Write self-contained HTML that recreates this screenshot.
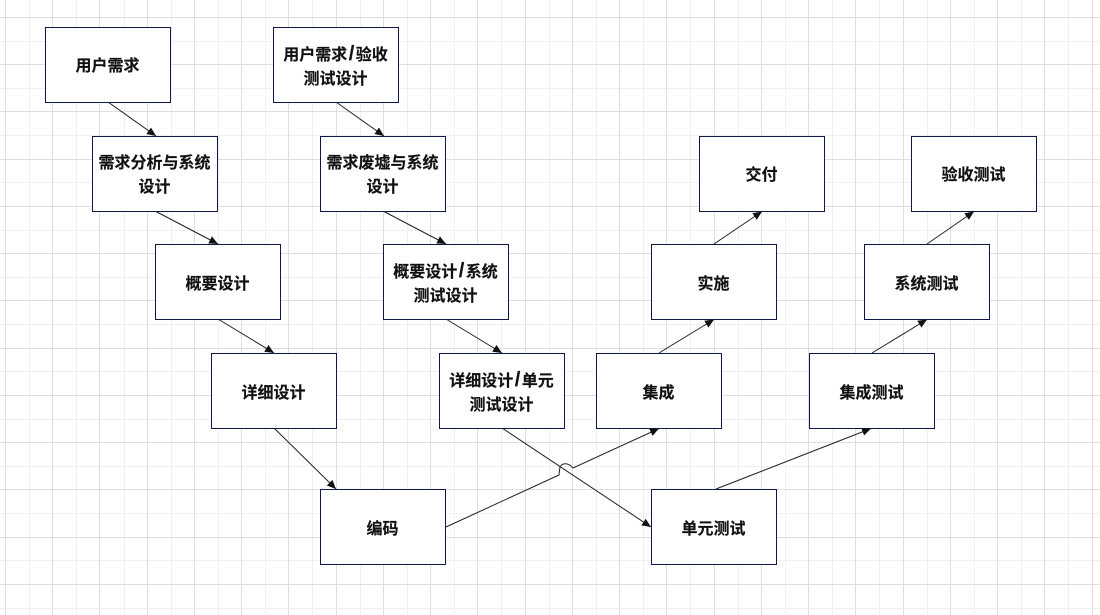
<!DOCTYPE html>
<html lang="zh"><head><meta charset="utf-8"><style>
html,body{margin:0;padding:0;background:#fff}
svg{display:block}
text{font-family:"Liberation Sans","Noto Sans CJK SC",sans-serif;font-size:16px;font-weight:700;fill:#111;stroke:#111;stroke-width:.15;text-anchor:middle}
.s{font-size:20px}
.b{fill:#fff;stroke:#10174a;stroke-width:1}
.c{fill:none;stroke:#222;stroke-width:1}
.g1{fill:#dfdfdf}
.g2{fill:#f0f0f0}
</style></head><body>
<svg width="1100" height="615" viewBox="0 0 1100 615" xmlns="http://www.w3.org/2000/svg">
<defs>
<marker id="a" markerUnits="userSpaceOnUse" markerWidth="10" markerHeight="10" refX="9" refY="4" orient="auto"><path d="M0 0L9 4L0 8Z" fill="#111"/></marker>
</defs>
<path class="g2" d="M29 0h1v615h-1zM76 0h1v615h-1zM124 0h1v615h-1zM171 0h1v615h-1zM218 0h1v615h-1zM265 0h1v615h-1zM312 0h1v615h-1zM360 0h1v615h-1zM407 0h1v615h-1zM454 0h1v615h-1zM501 0h1v615h-1zM549 0h1v615h-1zM596 0h1v615h-1zM643 0h1v615h-1zM690 0h1v615h-1zM738 0h1v615h-1zM785 0h1v615h-1zM832 0h1v615h-1zM879 0h1v615h-1zM927 0h1v615h-1zM974 0h1v615h-1zM1021 0h1v615h-1zM1068 0h1v615h-1z"/>
<path class="g2" d="M0 41h1100v1h-1100zM0 88h1100v1h-1100zM0 135h1100v1h-1100zM0 182h1100v1h-1100zM0 230h1100v1h-1100zM0 277h1100v1h-1100zM0 324h1100v1h-1100zM0 371h1100v1h-1100zM0 419h1100v1h-1100zM0 466h1100v1h-1100zM0 513h1100v1h-1100zM0 560h1100v1h-1100zM0 608h1100v1h-1100z"/>
<path class="g1" d="M5 0h1v615h-1zM52 0h1v615h-1zM99 0h1v615h-1zM147 0h1v615h-1zM194 0h1v615h-1zM241 0h1v615h-1zM288 0h1v615h-1zM336 0h1v615h-1zM383 0h1v615h-1zM430 0h1v615h-1zM477 0h1v615h-1zM525 0h1v615h-1zM572 0h1v615h-1zM619 0h1v615h-1zM666 0h1v615h-1zM714 0h1v615h-1zM761 0h1v615h-1zM808 0h1v615h-1zM855 0h1v615h-1zM903 0h1v615h-1zM950 0h1v615h-1zM997 0h1v615h-1zM1044 0h1v615h-1zM1092 0h1v615h-1z"/>
<path class="g1" d="M0 17h1100v1h-1100zM0 64h1100v1h-1100zM0 111h1100v1h-1100zM0 159h1100v1h-1100zM0 206h1100v1h-1100zM0 253h1100v1h-1100zM0 300h1100v1h-1100zM0 348h1100v1h-1100zM0 395h1100v1h-1100zM0 442h1100v1h-1100zM0 489h1100v1h-1100zM0 537h1100v1h-1100zM0 584h1100v1h-1100z"/>
<g class="c">
<path class="c" marker-end="url(#a)" d="M108 102L156 136"/>
<path class="c" marker-end="url(#a)" d="M336 102L384 136"/>
<path class="c" marker-end="url(#a)" d="M155 211L218 244"/>
<path class="c" marker-end="url(#a)" d="M383 211L446 244"/>
<path class="c" marker-end="url(#a)" d="M218 319L274 353"/>
<path class="c" marker-end="url(#a)" d="M446 319L502 353"/>
<path class="c" marker-end="url(#a)" d="M274 428L336 489"/>
<path class="c" marker-end="url(#a)" d="M502 428L651 527"/>
<path class="c" marker-end="url(#a)" d="M446 527L559 475Q559.500 470 560 467C562 463 568 462 573 468L659 428.500"/>
<path class="c" marker-end="url(#a)" d="M716 489L871 428.500"/>
<path class="c" marker-end="url(#a)" d="M659 353L714 319.500"/>
<path class="c" marker-end="url(#a)" d="M714 244L762 211.500"/>
<path class="c" marker-end="url(#a)" d="M872 353L927 319.500"/>
<path class="c" marker-end="url(#a)" d="M927 244L974 211.500"/>
</g>
<rect class="b" x="45.500" y="27.500" width="125" height="75"/>
<rect class="b" x="273.500" y="27.500" width="125" height="75"/>
<rect class="b" x="92.500" y="136.500" width="125" height="75"/>
<rect class="b" x="320.500" y="136.500" width="125" height="75"/>
<rect class="b" x="155.500" y="244.500" width="125" height="75"/>
<rect class="b" x="383.500" y="244.500" width="125" height="75"/>
<rect class="b" x="211.500" y="353.500" width="125" height="75"/>
<rect class="b" x="439.500" y="353.500" width="125" height="75"/>
<rect class="b" x="320.500" y="489.500" width="125" height="75"/>
<rect class="b" x="651.500" y="489.500" width="125" height="75"/>
<rect class="b" x="596.500" y="353.500" width="125" height="75"/>
<rect class="b" x="651.500" y="244.500" width="125" height="75"/>
<rect class="b" x="699.500" y="136.500" width="125" height="75"/>
<rect class="b" x="809.500" y="353.500" width="125" height="75"/>
<rect class="b" x="864.500" y="244.500" width="125" height="75"/>
<rect class="b" x="911.500" y="136.500" width="125" height="75"/>
<text x="107.500" y="71">用户需求</text>
<text x="335.500" y="60">用户需求<tspan class="s" dx="1.500">/</tspan><tspan dx="1.500">验收</tspan></text><text x="335.500" y="84">测试设计</text>
<text x="154.500" y="168">需求分析与系统</text><text x="154.500" y="192">设计</text>
<text x="382.500" y="168">需求废墟与系统</text><text x="382.500" y="192">设计</text>
<text x="217.500" y="289">概要设计</text>
<text x="445.500" y="277">概要设计<tspan class="s" dx="1.500">/</tspan><tspan dx="1.500">系统</tspan></text><text x="445.500" y="301">测试设计</text>
<text x="273.500" y="398">详细设计</text>
<text x="501.500" y="386">详细设计<tspan class="s" dx="1.500">/</tspan><tspan dx="1.500">单元</tspan></text><text x="501.500" y="410">测试设计</text>
<text x="382.500" y="534">编码</text>
<text x="713.500" y="534">单元测试</text>
<text x="658.500" y="398">集成</text>
<text x="713.500" y="289">实施</text>
<text x="761.500" y="180">交付</text>
<text x="871.500" y="398">集成测试</text>
<text x="926.500" y="289">系统测试</text>
<text x="973.500" y="180">验收测试</text>
</svg>
</body></html>
